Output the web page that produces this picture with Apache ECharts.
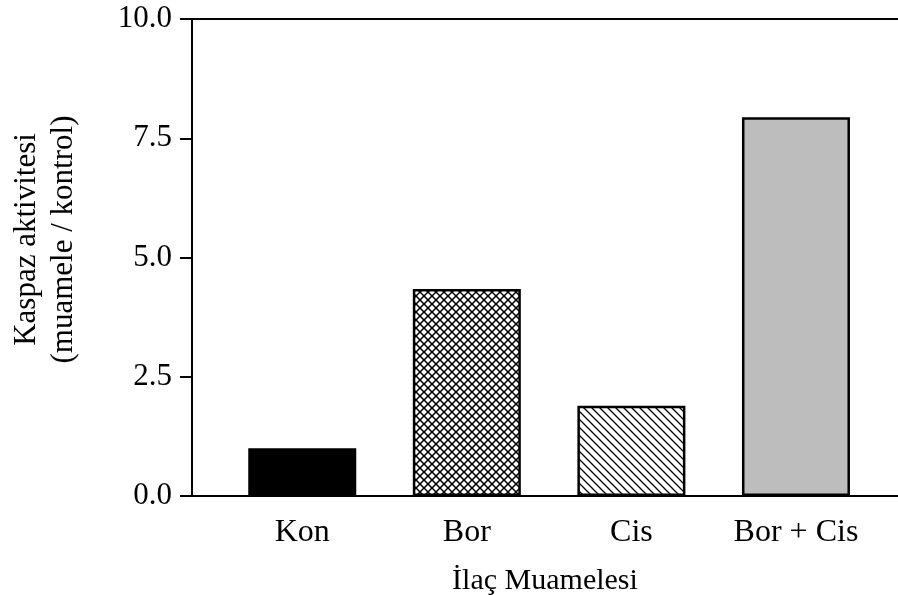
<!DOCTYPE html>
<html>
<head>
<meta charset="utf-8">
<script src="https://cdn.jsdelivr.net/npm/echarts@6/dist/echarts.min.js"></script>
<style>html,body{margin:0;padding:0;background:#fff}#c{width:898px;height:595px}</style>
</head>
<body>
<div id="c"></div>
<script>
const categories = ['Kon', 'Bor', 'Cis', 'Bor + Cis'];
const values = [1.0, 4.34, 1.89, 7.94];
const yTicks = [0, 2.5, 5, 7.5, 10];
const xTitle = 'İlaç Muamelesi';
const yTitle = 'Kaspaz aktivitesi\n(muamele / kontrol)';

function makePattern(kind) {
  const s = 8;
  const cv = document.createElement('canvas');
  cv.width = s; cv.height = s;
  const g = cv.getContext('2d');
  g.fillStyle = '#fff';
  g.fillRect(0, 0, s, s);
  g.strokeStyle = '#000';
  g.lineWidth = kind === 'cross' ? 1.5 : 1.3;
  const diagDown = () => {
    g.beginPath();
    g.moveTo(-1, -1); g.lineTo(s + 1, s + 1);
    g.moveTo(-1, s - 1); g.lineTo(1, s + 1);
    g.moveTo(s - 1, -1); g.lineTo(s + 1, 1);
    g.stroke();
  };
  const diagUp = () => {
    g.beginPath();
    g.moveTo(-1, s + 1); g.lineTo(s + 1, -1);
    g.moveTo(-1, 1); g.lineTo(1, -1);
    g.moveTo(s - 1, s + 1); g.lineTo(s + 1, s - 1);
    g.stroke();
  };
  if (kind === 'cross') { diagDown(); diagUp(); }
  else { diagDown(); }
  return { image: cv, repeat: 'repeat' };
}

const fills = ['#000000', makePattern('cross'), makePattern('diag'), '#bdbdbd'];
const FONT = '"Liberation Serif", "Times New Roman", serif';

const chart = echarts.init(document.getElementById('c'));
chart.setOption({
  animation: false,
  backgroundColor: '#ffffff',
  grid: { left: 192, right: 0, top: 19, bottom: 99, containLabel: false, outerBoundsMode: 'none' },
  xAxis: [{
    type: 'value', min: 0.33, max: 4.62,
    axisLine: { show: true, lineStyle: { color: '#000', width: 2 } },
    axisTick: { show: false },
    splitLine: { show: false },
    axisLabel: {
      customValues: [1, 2, 3, 4],
      formatter: v => categories[Math.round(v) - 1] || '',
      color: '#000', fontFamily: FONT, fontSize: 32, margin: 21
    },
    name: xTitle, nameLocation: 'middle', nameGap: 70,
    nameTextStyle: { color: '#000', fontFamily: FONT, fontSize: 30 }
  }, {
    type: 'value', min: 0.33, max: 4.62, position: 'top',
    axisLine: { show: true, lineStyle: { color: '#000', width: 2 } },
    axisTick: { show: false }, axisLabel: { show: false }, splitLine: { show: false }
  }],
  yAxis: {
    type: 'value', min: yTicks[0], max: yTicks[yTicks.length - 1], interval: 2.5,
    axisLine: { show: true, lineStyle: { color: '#000', width: 2 } },
    axisTick: { show: true, length: 12, inside: false, lineStyle: { color: '#000', width: 2 } },
    splitLine: { show: false },
    axisLabel: {
      formatter: v => v.toFixed(1),
      color: '#000', fontFamily: FONT, fontSize: 31, margin: 20
    },
    name: yTitle, nameLocation: 'middle', nameGap: 110, nameRotate: 90,
    nameTextStyle: { color: '#000', fontFamily: FONT, fontSize: 31, lineHeight: 37, padding: [0, 0, 0, 36] }
  },
  series: [{
    type: 'bar',
    xAxisIndex: 0,
    barWidth: 108,
    data: values.map((v, i) => ({
      value: [i + 1, v],
      itemStyle: { color: fills[i], borderColor: '#000', borderWidth: 2.5 }
    }))
  }]
});
</script>
</body>
</html>
